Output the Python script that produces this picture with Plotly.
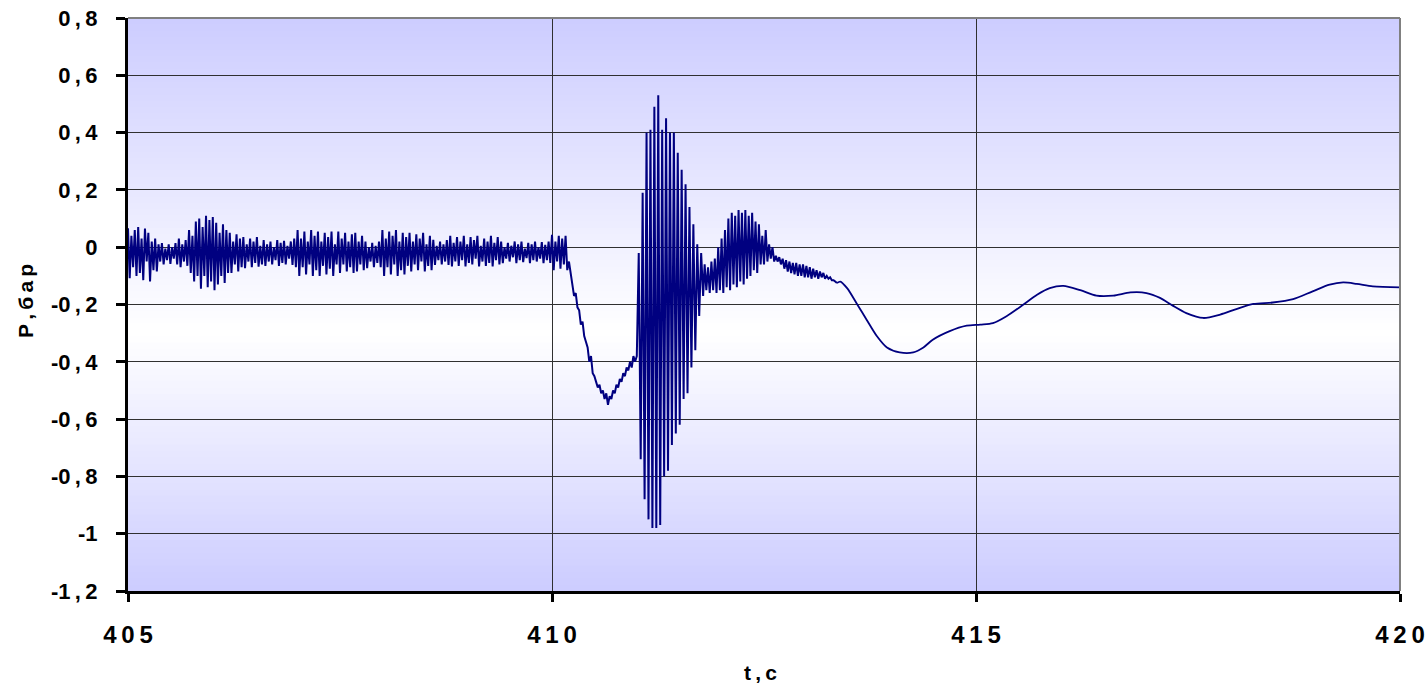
import plotly.graph_objects as go

# ---------------- data ----------------
# Segment 1: steady noisy pressure, one oscillation cycle per SEG1_CYCLE seconds
SEG1_T0 = 405.0
SEG1_CYCLE = 0.04
seg1_high = [
    0.066, 0.04, 0.06,
    0.07, 0.03, 0.065, 0.05, 0.02,
    0.03, 0.01,
    0.014, -0.005, 0.01, 0.0, 0.014,
    0.03, 0.01, 0.025,
    0.06, 0.04, 0.09,
    0.10, 0.07, 0.11, 0.095, 0.105,
    0.085, 0.05, 0.08, 0.06,
    0.05, 0.02, 0.045, 0.03,
    0.035, 0.01, 0.03, 0.02, 0.035, 0.005,
    0.025, 0.01, 0.02, 0.0, 0.025, 0.015, 0.022, 0.005, 0.02, 0.03,
    0.06, 0.03, 0.055, 0.02, 0.06, 0.04,
    0.055, 0.02, 0.05, 0.035, 0.055, 0.01,
    0.055, 0.03, 0.05, 0.02, 0.045,
    0.05, 0.02, 0.04,
    0.02, 0.0, 0.015, 0.005, 0.02,
    0.06, 0.03, 0.055, 0.04, 0.06, 0.02, 0.05, 0.035,
    0.05, 0.02, 0.045, 0.03, 0.05, 0.01, 0.04,
    0.026, 0.005, 0.02, 0.01, 0.025,
    0.04, 0.015, 0.035, 0.02, 0.04, 0.01, 0.035, 0.025, 0.04, 0.005, 0.03, 0.02, 0.04, 0.015, 0.035,
    0.02, 0.0, 0.015, 0.005, 0.02, 0.01, 0.02, -0.005, 0.015, 0.01, 0.02, 0.0, 0.018, 0.008, 0.02,
    0.043, 0.02, 0.04, 0.03, 0.04,
]
seg1_low = [
    -0.108, -0.07, -0.10,
    -0.09, -0.115, -0.05, -0.12, -0.08,
    -0.085, -0.05,
    -0.06, -0.045, -0.058, -0.04, -0.06,
    -0.07, -0.05, -0.065,
    -0.09, -0.12, -0.10,
    -0.145, -0.10, -0.14, -0.12, -0.15,
    -0.13, -0.10, -0.125, -0.09,
    -0.09, -0.06, -0.085, -0.07,
    -0.073, -0.05, -0.07, -0.055, -0.068, -0.06,
    -0.065, -0.05, -0.06, -0.045, -0.065, -0.055, -0.06, -0.04, -0.062, -0.07,
    -0.10, -0.07, -0.095, -0.06, -0.10, -0.08,
    -0.10, -0.065, -0.095, -0.075, -0.10, -0.06,
    -0.09, -0.06, -0.085, -0.07, -0.09,
    -0.085, -0.06, -0.08,
    -0.073, -0.05, -0.07, -0.055, -0.07,
    -0.10, -0.07, -0.095, -0.06, -0.10, -0.08, -0.095, -0.065,
    -0.085, -0.06, -0.08, -0.05, -0.085, -0.065, -0.08,
    -0.062, -0.045, -0.06, -0.05, -0.062,
    -0.067, -0.05, -0.065, -0.045, -0.067, -0.055, -0.06, -0.04, -0.067, -0.05, -0.065, -0.055, -0.067, -0.045, -0.06,
    -0.056, -0.04, -0.05, -0.035, -0.056, -0.045, -0.052, -0.038, -0.056, -0.045, -0.05, -0.04, -0.056, -0.045, -0.055,
    -0.08, -0.05, -0.075, -0.06, -0.08,
]

# Segment 2: pressure drop after 410 s
DROP_T0 = 410.20
DROP_DT = 0.02
drop_p = [
    -0.05, -0.09, -0.12, -0.17, -0.16, -0.21, -0.22, -0.27, -0.26, -0.31,
    -0.33, -0.35, -0.40, -0.38, -0.44, -0.45, -0.47, -0.49, -0.48, -0.51,
    -0.50, -0.53, -0.51, -0.55, -0.52, -0.53, -0.50, -0.51, -0.48, -0.49,
    -0.46, -0.47, -0.44, -0.45, -0.42, -0.43, -0.40, -0.42, -0.38, -0.40,
]

# Segment 3: large oscillation burst (alternating extremes)
BURST_T0 = 411.0
BURST_DT = 0.023
burst_p = [
    -0.38, -0.02, -0.74, 0.19, -0.88, 0.40, -0.95, 0.41, -0.98, 0.49,
    -0.98, 0.53, -0.97, 0.41, -0.80, 0.45, -0.78, 0.40, -0.69, 0.40,
    -0.65, 0.33, -0.62, 0.27, -0.53, 0.22, -0.51, 0.14, -0.42, 0.08,
    -0.36, 0.01, -0.24, -0.02, -0.17,
]

# Segment 4: second, smaller oscillation bump
BUMP_T0 = 411.80
BUMP_CYCLE = 0.04
bump_high = [-0.06, -0.07, -0.05, -0.04, 0.0, 0.03, 0.06, 0.10, 0.12, 0.11,
             0.13, 0.12, 0.13, 0.11, 0.12, 0.09, 0.08, 0.04, 0.06, 0.01, 0.0]
bump_low = [-0.15, -0.16, -0.15, -0.16, -0.15, -0.16, -0.14, -0.15, -0.13, -0.14,
            -0.12, -0.13, -0.11, -0.10, -0.08, -0.09, -0.06, -0.06, -0.05, -0.04, -0.05]

# Segment 5: decaying ripple
RIPPLE_T0 = 412.64
RIPPLE_DT = 0.02
ripple_p = [
    -0.03, -0.05, -0.035, -0.06, -0.04, -0.075, -0.045, -0.085, -0.05, -0.09,
    -0.055, -0.095, -0.055, -0.10, -0.06, -0.10, -0.06, -0.105, -0.065, -0.105,
    -0.07, -0.11, -0.075, -0.105, -0.08, -0.11, -0.085, -0.105, -0.09, -0.11,
    -0.10, -0.11, -0.105, -0.115, -0.115, -0.12, -0.125,
]

# Segment 6: smooth tail
tail_t = [413.40, 413.48, 413.60, 413.71, 413.83, 413.95, 414.10, 414.26, 414.38, 414.49,
          414.69, 414.89, 415.05, 415.20, 415.36, 415.56, 415.72, 415.87, 416.03, 416.23,
          416.42, 416.62, 416.82, 417.01, 417.17, 417.32, 417.48, 417.68, 417.88, 418.07,
          418.27, 418.50, 418.74, 418.97, 419.17, 419.33, 419.49, 419.68, 420.00]
tail_p = [-0.12, -0.143, -0.20, -0.253, -0.31, -0.35, -0.367, -0.367, -0.35, -0.323,
          -0.293, -0.274, -0.27, -0.265, -0.241, -0.20, -0.166, -0.143, -0.135, -0.15,
          -0.169, -0.169, -0.158, -0.16, -0.177, -0.204, -0.23, -0.247, -0.235, -0.216,
          -0.198, -0.193, -0.181, -0.154, -0.131, -0.123, -0.128, -0.137, -0.14]

X_TICKS = [405, 410, 415, 420]
X_TICK_TEXT = ["4\u20090\u20095", "4\u20091\u20090", "4\u20091\u20095", "4\u20092\u20090"]
Y_TICKS = [0.8, 0.6, 0.4, 0.2, 0.0, -0.2, -0.4, -0.6, -0.8, -1.0, -1.2]
Y_TICK_TEXT = ["0\u2009,\u20098", "0\u2009,\u20096", "0\u2009,\u20094", "0\u2009,\u20092", "0",
               "-0\u2009,\u20092", "-0\u2009,\u20094", "-0\u2009,\u20096", "-0\u2009,\u20098",
               "-1", "-1\u2009,\u20092"]
X_TITLE = "t\u2009,\u2009c"
Y_TITLE = "P\u2009,\u2009б\u2009а\u2009р"

# ---------------- assemble the sampled signal ----------------
t_all, p_all = [], []
for k, (hi, lo) in enumerate(zip(seg1_high, seg1_low)):
    t_all += [SEG1_T0 + k * SEG1_CYCLE, SEG1_T0 + k * SEG1_CYCLE + SEG1_CYCLE / 2]
    p_all += [hi, lo]
for i, v in enumerate(drop_p):
    t_all.append(DROP_T0 + i * DROP_DT)
    p_all.append(v)
for i, v in enumerate(burst_p):
    t_all.append(BURST_T0 + i * BURST_DT)
    p_all.append(v)
for k, (hi, lo) in enumerate(zip(bump_high, bump_low)):
    t_all += [BUMP_T0 + k * BUMP_CYCLE, BUMP_T0 + k * BUMP_CYCLE + BUMP_CYCLE / 2]
    p_all += [hi, lo]
for i, v in enumerate(ripple_p):
    t_all.append(RIPPLE_T0 + i * RIPPLE_DT)
    p_all.append(v)

LINE_COLOR = "#000080"
fig = go.Figure()
fig.add_trace(go.Scatter(x=t_all, y=p_all, mode="lines",
                         line=dict(color=LINE_COLOR, width=2), hoverinfo="skip"))
fig.add_trace(go.Scatter(x=[t_all[-1]] + tail_t, y=[p_all[-1]] + tail_p, mode="lines",
                         line=dict(color=LINE_COLOR, width=1.8, shape="spline", smoothing=0.8),
                         hoverinfo="skip"))

# ---------------- background gradient (lavender -> white -> lavender) ----------------
shapes = []
N = 90
CENTER = 0.45
LAV = (204, 204, 255)
for i in range(N):
    y0 = i / N
    y1 = (i + 1) / N
    ym = (y0 + y1) / 2
    d = (ym - CENTER) / (1 - CENTER) if ym > CENTER else (CENTER - ym) / CENTER
    d = max(0.0, min(1.0, d))
    col = tuple(round(255 * (1 - d) + c * d) for c in LAV)
    shapes.append(dict(type="rect", xref="x domain", yref="y domain",
                       x0=0, x1=1, y0=y0, y1=min(1.0, y1 + 0.002),
                       fillcolor="rgb(%d,%d,%d)" % col, line=dict(width=0), layer="below"))
# gray frame on top and right
shapes.append(dict(type="line", xref="x domain", yref="y domain", x0=0, x1=1, y0=1, y1=1,
                   line=dict(color="#808080", width=2), layer="above"))
shapes.append(dict(type="line", xref="x domain", yref="y domain", x0=1, x1=1, y0=0, y1=1,
                   line=dict(color="#808080", width=2), layer="above"))

FONT = "Liberation Sans, Arial, sans-serif"
fig.update_layout(
    width=1427, height=687,
    margin=dict(l=128, r=27, t=18, b=96, autoexpand=False),
    paper_bgcolor="white", plot_bgcolor="white",
    showlegend=False,
    shapes=shapes,
    font=dict(family=FONT, color="black"),
    xaxis=dict(range=[X_TICKS[0], X_TICKS[-1]], tickvals=X_TICKS, ticktext=X_TICK_TEXT,
               showgrid=True, gridcolor="#303030", gridwidth=1, zeroline=False,
               showline=True, linecolor="black", linewidth=3, automargin=False,
               ticks="outside", ticklen=8, tickwidth=3, tickcolor="black",
               ticklabelstandoff=12,
               tickfont=dict(family=FONT, size=24, color="black", weight="bold")),
    yaxis=dict(range=[Y_TICKS[-1], Y_TICKS[0]], tickvals=Y_TICKS, ticktext=Y_TICK_TEXT,
               showgrid=True, gridcolor="#303030", gridwidth=1, zeroline=False,
               showline=True, linecolor="black", linewidth=3, automargin=False,
               ticks="outside", ticklen=9, tickwidth=3, tickcolor="black",
               ticklabelstandoff=14,
               tickfont=dict(family=FONT, size=22, color="black", weight="bold")),
    annotations=[
        dict(text=X_TITLE, xref="paper", yref="paper", x=0.497, y=-0.143,
             xanchor="center", yanchor="middle", showarrow=False,
             font=dict(family=FONT, size=21, color="black", weight="bold")),
        dict(text=Y_TITLE, xref="paper", yref="paper", x=-0.081, y=0.506,
             xanchor="center", yanchor="middle", showarrow=False, textangle=-90,
             font=dict(family=FONT, size=21, color="black", weight="bold")),
    ],
)

fig.write_html("out.html")
